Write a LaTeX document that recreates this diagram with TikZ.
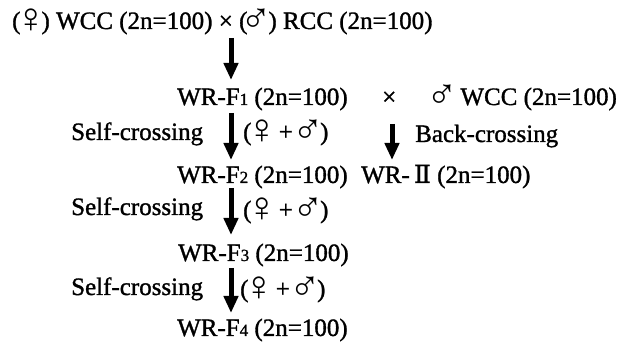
\documentclass[tikz,border=0pt]{standalone}
\usepackage{fontspec}
\setmainfont{Liberation Serif}[FakeBold=1.2]
\newfontfamily\symf{Liberation Serif}
\newfontfamily\romf{DejaVu Serif}[FakeBold=0.8]
\usetikzlibrary{arrows.meta}
\newcommand{\symb}[2]{\raisebox{-4pt}{\makebox[21pt][c]{\hspace{#2}\symf\fontsize{42}{42}\selectfont #1}}}
\newcommand{\fem}{\symb{♀}{1pt}}
\newcommand{\mal}{\symb{♂}{-3pt}}
\newcommand{\sub}[1]{{\fontsize{17}{17}\selectfont #1}}
\tikzset{
  lbl/.style={anchor=base west, inner sep=0pt, font=\fontsize{25}{28}\selectfont},
  darr/.style={line width=5pt, -{Triangle[width=14pt,length=17pt]}},
}
\begin{document}
\begin{tikzpicture}[x=1pt,y=-1pt]
\useasboundingbox (0,0) rectangle (633,344);
\node[lbl] (p) at (12,29) {(\fem) WCC (2n=100) × (\mal) RCC (2n=100)};
\node[lbl] (f1) at (177,105) {WR-F\sub{1} (2n=100)};
\node[lbl] (x) at (382,105) {×};
\node[lbl] (w) at (433,105) {\mal\ WCC (2n=100)};
\node[lbl] (s1) at (71,140) {Self-crossing};
\node[lbl] (g1) at (243,140) {(\fem\ + \mal)};
\node[lbl] (bc) at (415,142) {Back-crossing};
\node[lbl] (f2) at (177,183) {WR-F\sub{2} (2n=100)};
\node[lbl] (w2) at (361,183) {WR-\,{\romf Ⅱ} (2n=100)};
\node[lbl] (s2) at (71,215) {Self-crossing};
\node[lbl] (g2) at (243,218) {(\fem\ + \mal)};
\node[lbl] (f3) at (178,261) {WR-F\sub{3} (2n=100)};
\node[lbl] (s3) at (71,295) {Self-crossing};
\node[lbl] (g3) at (240,297) {(\fem\ + \mal)};
\node[lbl] (f4) at (177,336) {WR-F\sub{4} (2n=100)};
\coordinate (a1s) at (231,38);  \coordinate (a1e) at (231,80);
\coordinate (a2s) at (231,113); \coordinate (a2e) at (231,160);
\coordinate (a3s) at (231,188); \coordinate (a3e) at (231,235);
\coordinate (a4s) at (231,268); \coordinate (a4e) at (231,313);
\coordinate (b1s) at (392,124); \coordinate (b1e) at (392,160);
\draw[darr] (a1s) -- (a1e);
\draw[darr] (a2s) -- (a2e);
\draw[darr] (a3s) -- (a3e);
\draw[darr] (a4s) -- (a4e);
\draw[darr] (b1s) -- (b1e);
\end{tikzpicture}
\end{document}
